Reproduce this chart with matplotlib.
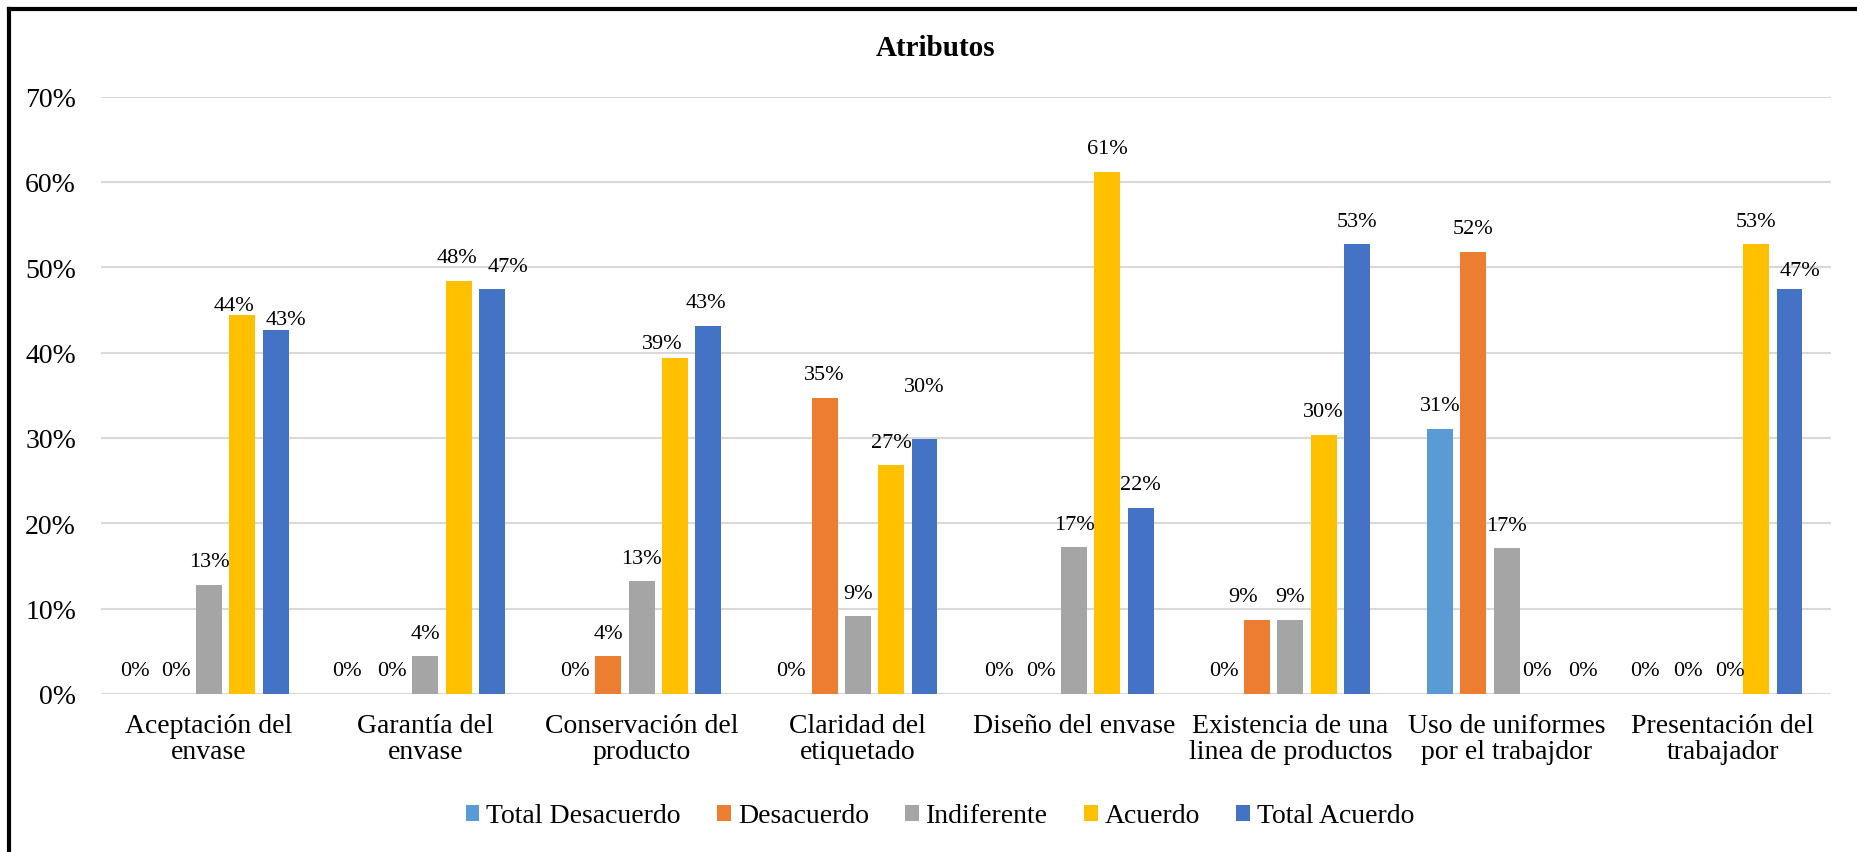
import numpy as np
import matplotlib.pyplot as plt
from matplotlib.patches import Patch

plt.rcParams['font.family'] = ['Liberation Serif', 'DejaVu Serif']

categorias = [
    "Aceptación del\nenvase",
    "Garantía del\nenvase",
    "Conservación del\nproducto",
    "Claridad del\netiquetado",
    "Diseño del envase",
    "Existencia de una\nlinea de productos",
    "Uso de uniformes\npor el trabajdor",
    "Presentación del\ntrabajador",
]
series = ["Total Desacuerdo", "Desacuerdo", "Indiferente", "Acuerdo", "Total Acuerdo"]
colores = ["#5B9BD5", "#ED7D31", "#A5A5A5", "#FFC000", "#4472C4"]

total_desacuerdo = [0.0, 0.0, 0.0, 0.0, 0.0, 0.0, 0.311, 0.0]
desacuerdo = [0.0, 0.0, 0.044, 0.347, 0.0, 0.087, 0.518, 0.0]
indiferente = [0.128, 0.044, 0.132, 0.091, 0.172, 0.087, 0.171, 0.0]
acuerdo = [0.444, 0.484, 0.394, 0.268, 0.612, 0.304, 0.0, 0.527]
total_acuerdo = [0.427, 0.474, 0.431, 0.299, 0.218, 0.527, 0.0, 0.474]

valores = [total_desacuerdo, desacuerdo, indiferente, acuerdo, total_acuerdo]

# label nudges in pixels (dx, dy above bar top) where labels were moved by hand
ajustes = {
    (0, 0): (-8, 23), (0, 3): (-8, 10), (0, 4): (10, 10),
    (1, 0): (-12, 23), (1, 3): (-2, 23), (1, 4): (16, 23),
    (2, 3): (-13, 14), (2, 4): (-2, 24),
    (3, 4): (0, 52),
    (4, 0): (-9, 23),
    (5, 1): (-14, 23),
    (6, 3): (-3, 23), (6, 4): (10, 23),
    (7, 0): (-11, 23), (7, 1): (-2, 23), (7, 2): (7, 23), (7, 4): (11, 19),
}

fig = plt.figure(figsize=(18.58, 8.53), dpi=100)
ax = fig.add_axes([101 / 1858, 1 - 695 / 853, (1831 - 101) / 1858, (695 - 97.5) / 853])

x = np.arange(len(categorias))
paso = 0.154
ancho = 0.12
px = 72 / 100.0
for j, (nombre, vals, color) in enumerate(zip(series, valores, colores)):
    pos = x + (j - 2) * paso
    ax.bar(pos, vals, width=ancho, color=color, label=nombre, zorder=3)
    for i, (p, v) in enumerate(zip(pos, vals)):
        dx, dy = ajustes.get((i, j), (0, 23))
        ax.annotate(f"{round(v * 100)}%", (p, v), xytext=(dx * px, dy * px),
                    textcoords="offset points", ha="center", va="center",
                    fontsize=16, zorder=4)

ax.set_xlim(-0.5, len(categorias) - 0.5)
ax.set_ylim(0, 0.7)
ax.set_yticks(np.arange(0, 0.71, 0.1))
ax.set_yticklabels([f"{t:.0f}%" for t in np.arange(0, 71, 10)], fontsize=20)
ax.set_xticks(x)
ax.set_xticklabels(categorias, fontsize=20, linespacing=1.05)
ax.tick_params(axis="y", length=0, pad=18)
ax.tick_params(axis="x", length=0, pad=14)
ax.grid(axis="y", color="#D9D9D9", linewidth=1.5, zorder=0)
for s in ax.spines.values():
    s.set_visible(False)

fig.text(936 / 1858, 1 - 48 / 853, "Atributos", ha="center", va="center",
         fontsize=21, fontweight="bold")

handles = [Patch(facecolor=c, label=n) for n, c in zip(series, colores)]
fig.legend(handles=handles, loc="center", bbox_to_anchor=(940 / 1858, 1 - 817 / 853),
           ncol=5, frameon=False, fontsize=20, handlelength=0.5, handleheight=0.5,
           handletextpad=0.25, columnspacing=1.3)

# frame lines along the top and left edges
fig.add_artist(plt.Line2D([9 / 1858, 1], [1 - 10 / 853, 1 - 10 / 853],
                          transform=fig.transFigure, color="black", linewidth=3))
fig.add_artist(plt.Line2D([9 / 1858, 9 / 1858], [0, 1 - 10 / 853],
                          transform=fig.transFigure, color="black", linewidth=3))

fig.savefig("out.png", dpi=100)
